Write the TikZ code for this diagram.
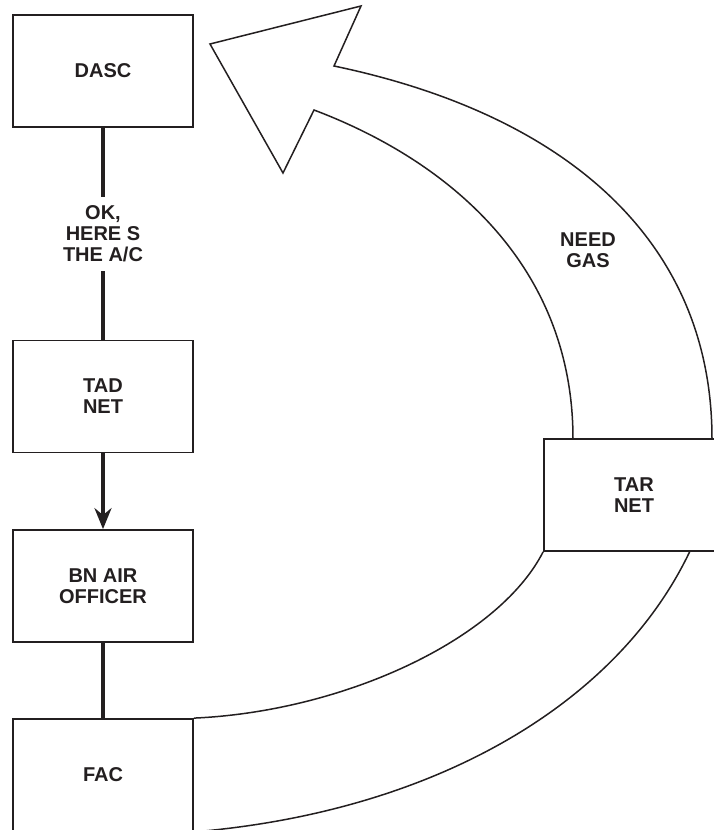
\documentclass[tikz,border=0pt]{standalone}
\usepackage{fontspec}
\setmainfont{Liberation Sans}
\usetikzlibrary{arrows.meta}
\definecolor{ink}{RGB}{35,31,32}
\begin{document}
\begin{tikzpicture}[x=1pt, y=-1pt,
  unit/.style={draw=ink, line width=1.8pt, fill=white, minimum width=180pt, minimum height=112pt,
    align=center, text=ink, font=\fontsize{20pt}{21pt}\selectfont\bfseries},
  link/.style={draw=ink, line width=3.6pt},
  band/.style={draw=ink, line width=1.5pt, line join=miter},
  msg/.style={align=center, text=ink, font=\fontsize{20pt}{21pt}\selectfont\bfseries}]
\useasboundingbox (0,0) rectangle (713,830);
\node[unit] (dasc) at (103,71) {DASC};
\node[unit] (tad) at (103,396.5) {TAD\\NET};
\node[unit] (bn) at (103,586) {BN AIR\\OFFICER};
\node[unit] (fac) at (103,775) {FAC};
\node[unit] (tar) at (634,495) {TAR\\NET};
% radio links on the left
\draw[link] (dasc) -- node[msg, fill=white, inner xsep=2pt, inner ysep=9pt] {OK,\\HERE S\\THE A/C} (tad);
\draw[link, -{Stealth[length=21pt, width=17pt, inset=7pt]}] (tad) -- (bn);
\draw[link] (bn) -- (fac);
% big arrow back to the DASC
\coordinate (tip) at (210,44);
\coordinate (barbU) at (361,6);
\coordinate (notchU) at (334,66);
\coordinate (notchL) at (314,110);
\coordinate (barbL) at (283,173);
\coordinate (tarA) at (573,439);
\coordinate (tarB) at (712,439);
\coordinate (tarC) at (690,551);
\draw[band] (tarA) .. controls (573,269) and (454,163) .. (notchL) -- (barbL) -- (tip) -- (barbU) -- (notchU)
  .. controls (564,114) and (712,239) .. (tarB);
\node[msg] (gas) at (588,250) {NEED\\GAS};
% band from the FAC to the TAR net
\draw[band] (tar.south west) .. controls (498,640) and (343,711.5) .. (fac.north east);
\draw[band] (tarC) .. controls (617,705) and (433,811.8) .. (fac.south east);
\end{tikzpicture}
\end{document}
